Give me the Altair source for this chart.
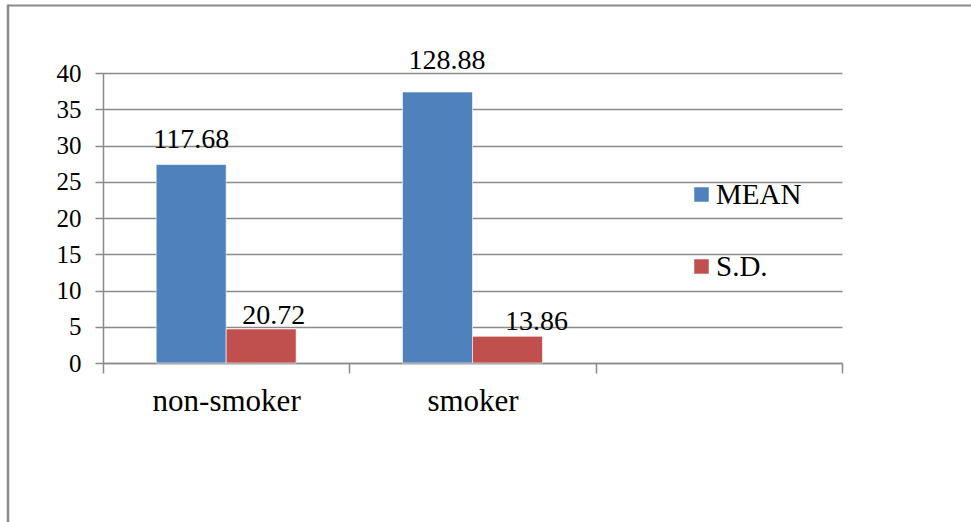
import altair as alt
import pandas as pd

# ---- data ----
categories = ["non-smoker", "smoker", " "]
series = ["MEAN", "S.D."]
mean_heights = [27.37, 37.38]
sd_heights = [4.69, 3.68]
mean_labels = ["117.68", "128.88"]
sd_labels = ["20.72", "13.86"]
y_ticks = [0, 5, 10, 15, 20, 25, 30, 35, 40]
colors = ["#4F81BD", "#C0504D"]

rows = []
for i, cat in enumerate(categories[:2]):
    rows.append({"category": cat, "series": series[0], "value": mean_heights[i], "label": mean_labels[i]})
    rows.append({"category": cat, "series": series[1], "value": sd_heights[i], "label": sd_labels[i]})
df = pd.DataFrame(rows)

FONT = "'Liberation Serif', 'Times New Roman', Times, serif"
GRAY = "#8a8a8a"

# label nudges (style only)
nudges = {
    "117.68": (0, -17),
    "128.88": (9.5, -22.5),
    "20.72": (12.5, -5),
    "13.86": (29, -6),
}

x_enc = alt.X(
    "category:N",
    scale=alt.Scale(domain=categories, paddingInner=0, paddingOuter=0),
    axis=alt.Axis(
        title=None, labelAngle=0, tickBand="extent", grid=False,
        domainColor=GRAY, domainWidth=1.5, tickColor=GRAY, tickWidth=1.5, tickSize=10,
        labelFont=FONT, labelFontSize=31, labelColor="black", labelPadding=13,
    ),
)
y_enc = alt.Y(
    "value:Q",
    scale=alt.Scale(domain=[0, 40], nice=False, zero=True),
    axis=alt.Axis(
        title=None, values=y_ticks, grid=True, gridColor=GRAY, gridWidth=1.5,
        domainColor=GRAY, domainWidth=1.5, tickColor=GRAY, tickWidth=1.5, tickSize=8,
        labelFont=FONT, labelFontSize=25, labelColor="black", labelPadding=14,
    ),
)
xoff = alt.XOffset("series:N", scale=alt.Scale(domain=series, paddingInner=0, paddingOuter=0.76))
color = alt.Color(
    "series:N",
    scale=alt.Scale(domain=series, range=colors),
    legend=alt.Legend(
        title=None, orient="none", legendX=584, legendY=107, padding=0,
        symbolType="square", symbolSize=210, symbolStrokeWidth=0,
        labelFont=FONT, labelFontSize=29, labelColor="black", labelOffset=0,
        rowPadding=42,
    ),
)

bars = alt.Chart(df).mark_bar(stroke="white", strokeWidth=0.6).encode(
    x=x_enc, y=y_enc, xOffset=xoff, color=color
)

layers = [bars]
for lab, (dx, dy) in nudges.items():
    t = alt.Chart(df).transform_filter(alt.datum.label == lab).mark_text(
        font=FONT, fontSize=28, color="black", align="center", baseline="alphabetic", dx=dx, dy=dy
    ).encode(x=x_enc, y=y_enc, xOffset=xoff, text="label:N")
    layers.append(t)

frame_data = alt.Data(values=[{"k": 0}])
top_line = alt.Chart(frame_data).mark_rule(color=GRAY, strokeWidth=2).encode(
    x=alt.value(-95), x2=alt.value(900), y=alt.value(-67.5)
)
left_line = alt.Chart(frame_data).mark_rule(color=GRAY, strokeWidth=2.5).encode(
    x=alt.value(-95), y=alt.value(-68.5), y2=alt.value(460)
)
layers += [top_line, left_line]

chart = alt.layer(*layers).properties(
    width=739, height=290,
    padding={"left": 103, "top": 73, "right": 129, "bottom": 159},
    autosize=alt.AutoSizeParams(type="none"),
    background="white",
).configure_view(stroke="transparent")

chart.save("out.html", embed_options={"renderer": "svg", "actions": False})
